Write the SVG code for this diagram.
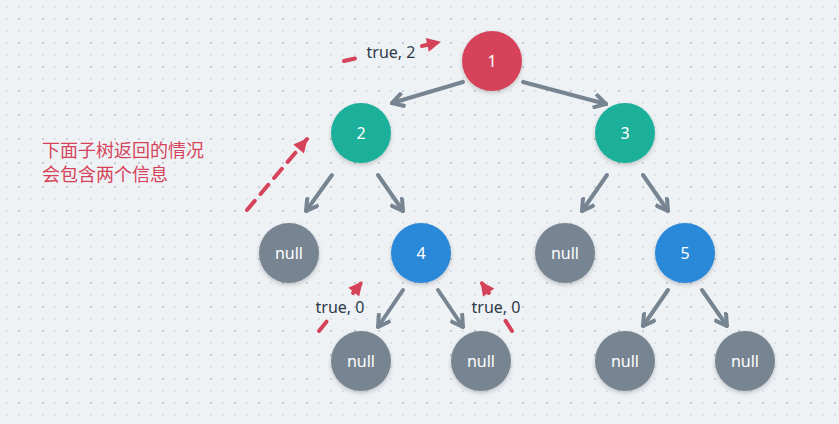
<svg xmlns="http://www.w3.org/2000/svg" width="839" height="424" viewBox="0 0 839 424">
<style>
.node text{font-family:"Noto Sans","Open Sans",sans-serif;font-size:16px;fill:#ffffff;text-anchor:middle;dominant-baseline:central}
.edge{stroke:#778592;stroke-width:4;fill:none;stroke-linecap:round}
.ret{stroke:#d5435a;stroke-width:4;fill:none;stroke-linecap:round;stroke-dasharray:12 9}
.lbl{font-family:"Noto Sans","Open Sans",sans-serif;font-size:16px;fill:#2d3a48}
.note{font-family:"Noto Sans","Noto Sans CJK SC",sans-serif;font-size:18px;fill:#d5435a}
</style>
<defs>
<pattern id="grid" patternUnits="userSpaceOnUse" x="0" y="0" width="24" height="24">
<rect x="6" y="6" width="2" height="2" fill="#dde2e8"/>
<rect x="18" y="6" width="2" height="2" fill="#dde2e8"/>
<rect x="6" y="18" width="2" height="2" fill="#dde2e8"/>
<rect x="18" y="18" width="2" height="2" fill="#c6cdd5"/>
</pattern>
<filter id="sh" x="-30%" y="-30%" width="160%" height="160%">
<feDropShadow dx="0" dy="2" stdDeviation="2" flood-color="#000" flood-opacity="0.2"/>
</filter>
<marker id="ag" markerUnits="userSpaceOnUse" markerWidth="16" markerHeight="16" refX="14" refY="8" orient="auto" viewBox="0 0 16 16">
<path d="M2,1 L14,8 L2,15" fill="none" stroke="#778592" stroke-width="4" stroke-linejoin="miter"/>
</marker>
<marker id="ar" markerUnits="userSpaceOnUse" markerWidth="16" markerHeight="16" refX="14" refY="8" orient="auto" viewBox="0 0 16 16">
<path d="M1,1 L15,8 L1,15 Z" fill="#d5435a"/>
</marker>
</defs>
<rect width="839" height="424" fill="#eff2f5"/>
<rect width="839" height="424" fill="url(#grid)"/>
<g id="connectors">
<line class="edge" x1="463" y1="82" x2="392" y2="103" marker-end="url(#ag)"/>
<line class="edge" x1="523" y1="82" x2="606" y2="104" marker-end="url(#ag)"/>
<line class="edge" x1="332" y1="175" x2="306" y2="211" marker-end="url(#ag)"/>
<line class="edge" x1="378" y1="175" x2="403" y2="211" marker-end="url(#ag)"/>
<line class="edge" x1="607" y1="175" x2="582" y2="211" marker-end="url(#ag)"/>
<line class="edge" x1="643" y1="175" x2="668" y2="211" marker-end="url(#ag)"/>
<line class="edge" x1="403" y1="290" x2="378" y2="327" marker-end="url(#ag)"/>
<line class="edge" x1="438" y1="290" x2="463" y2="327" marker-end="url(#ag)"/>
<line class="edge" x1="668" y1="290" x2="643" y2="326" marker-end="url(#ag)"/>
<line class="edge" x1="702" y1="290" x2="727" y2="326" marker-end="url(#ag)"/>
<line class="ret" x1="344" y1="61" x2="355" y2="58.5"/>
<line class="ret" x1="422" y1="46" x2="440" y2="42" stroke-dasharray="none" marker-end="url(#ar)"/>
<line class="ret" x1="247" y1="210" x2="307" y2="139" marker-end="url(#ar)"/>
<line class="ret" x1="319" y1="331" x2="327" y2="321" stroke-dasharray="none"/>
<line class="ret" x1="353" y1="293" x2="362" y2="282" stroke-dasharray="none" marker-end="url(#ar)"/>
<line class="ret" x1="512" y1="331" x2="505" y2="320" stroke-dasharray="none"/>
<line class="ret" x1="489" y1="293" x2="481" y2="282" stroke-dasharray="none" marker-end="url(#ar)"/>
</g>
<g id="labels">
<text class="lbl" x="391" y="58" text-anchor="middle">true, 2</text>
<text class="lbl" x="340" y="313" text-anchor="middle">true, 0</text>
<text class="lbl" x="496" y="313" text-anchor="middle">true, 0</text>
<text class="note" x="42" y="157">下面子树返回的情况</text>
<text class="note" x="42" y="181">会包含两个信息</text>
</g>
<g id="n1" class="node"><circle cx="492" cy="61" r="30" fill="#d5435a" filter="url(#sh)"/><text x="492" y="61">1</text></g>
<g id="n2" class="node"><circle cx="361" cy="133" r="30" fill="#1aaf9a" filter="url(#sh)"/><text x="361" y="133">2</text></g>
<g id="n3" class="node"><circle cx="625" cy="133" r="30" fill="#1aaf9a" filter="url(#sh)"/><text x="625" y="133">3</text></g>
<g id="n2l" class="node"><circle cx="289" cy="253" r="30" fill="#778592" filter="url(#sh)"/><text x="289" y="253">null</text></g>
<g id="n4" class="node"><circle cx="421" cy="253" r="30" fill="#2a88d8" filter="url(#sh)"/><text x="421" y="253">4</text></g>
<g id="n3l" class="node"><circle cx="565" cy="253" r="30" fill="#778592" filter="url(#sh)"/><text x="565" y="253">null</text></g>
<g id="n5" class="node"><circle cx="685" cy="253" r="30" fill="#2a88d8" filter="url(#sh)"/><text x="685" y="253">5</text></g>
<g id="n4l" class="node"><circle cx="361" cy="361" r="30" fill="#778592" filter="url(#sh)"/><text x="361" y="361">null</text></g>
<g id="n4r" class="node"><circle cx="481" cy="361" r="30" fill="#778592" filter="url(#sh)"/><text x="481" y="361">null</text></g>
<g id="n5l" class="node"><circle cx="625" cy="361" r="30" fill="#778592" filter="url(#sh)"/><text x="625" y="361">null</text></g>
<g id="n5r" class="node"><circle cx="745" cy="361" r="30" fill="#778592" filter="url(#sh)"/><text x="745" y="361">null</text></g>
</svg>
